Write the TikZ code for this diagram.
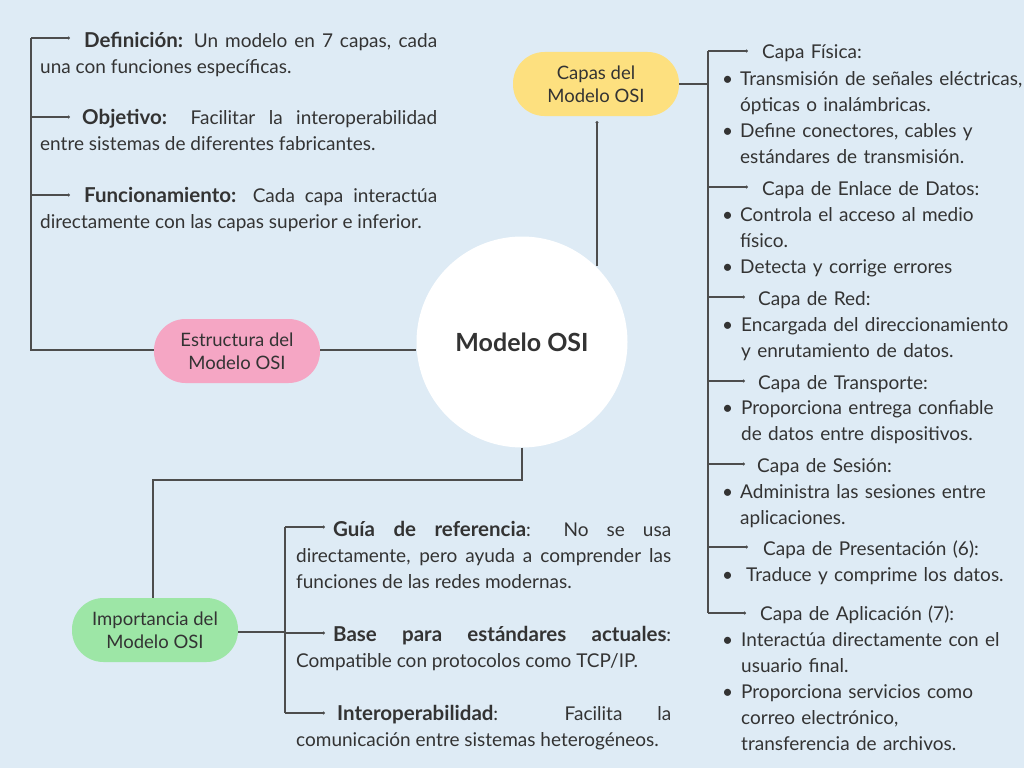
\documentclass[tikz,border=0pt]{standalone}
\usepackage{fontspec}
\setmainfont{Lato}
\usetikzlibrary{arrows.meta}
\definecolor{bgc}{HTML}{DEEBF5}
\definecolor{txtc}{HTML}{333333}
\definecolor{linec}{HTML}{4D4D4D}
\definecolor{pinkc}{HTML}{F5A6C4}
\definecolor{yelc}{HTML}{FDE07F}
\definecolor{grnc}{HTML}{9DE6A6}
\newcommand{\bterm}[1]{{\fontsize{20.5}{26}\selectfont\bfseries #1}}
\begin{document}
\begin{tikzpicture}[x=1pt,y=-1pt,
  conn/.style={draw=linec, line width=1.1pt},
  arr/.style={conn, -{Circle[length=3pt]}},
  pill/.style={rounded corners=31.5pt, minimum width=166pt, minimum height=64pt, inner sep=0pt,
     text=txtc, align=center, font=\fontsize{18.5}{23}\selectfont},
  txt/.style={inner sep=0pt, text=txtc, font=\fontsize{19}{26}\selectfont, anchor=base west, text width=300pt, align=left},
  jtxt/.style={txt, align=justify}]
\fill[bgc] (0,0) rectangle (1024,768);
\useasboundingbox (0,0) rectangle (1024,768);

% central node
\node[circle, fill=white, minimum size=211pt, inner sep=0pt, text=txtc,
  font=\fontsize{25}{28}\selectfont\bfseries] (c) at (522,342) {Modelo OSI};

% pills
\node[pill, fill=pinkc] (est) at (237,351) {Estructura del\\Modelo OSI};
\node[pill, fill=yelc] (cap) at (596,84) {Capas del\\Modelo OSI};
\node[pill, fill=grnc] (imp) at (155,630) {Importancia del\\Modelo OSI};

% connectors centre
\draw[conn] (est.east |- 0,350) -- (c.west |- 0,350);
\coordinate (capdot) at (597,121);
\coordinate (ctop) at (597,266);
\draw[conn, {Circle[length=3pt]}-] (capdot) -- (ctop);
\coordinate (cb1) at (522,480);
\coordinate (cb2) at (153,480);
\draw[conn] (c.south) -- (cb1) -- (cb2) -- (imp.north -| cb2);

% ---------- left: estructura ----------
\coordinate (lv) at (31,350);
\coordinate (l1) at (31,38);
\coordinate (l2) at (31,117);
\coordinate (l3) at (31,195);
\coordinate (l1e) at (70,38);
\coordinate (l2e) at (70,117);
\coordinate (l3e) at (70,195);
\draw[conn] (est.west |- lv) -- (lv) -- (l1);
\draw[arr] (l1) -- (l1e);
\draw[arr] (l2) -- (l2e);
\draw[arr] (l3) -- (l3e);
\node[jtxt, text width=397pt] (def) at (40,48) {\hspace*{44pt}\bterm{Definición:} Un modelo en 7 capas, cada\linebreak una con funciones específicas.};
\node[jtxt, text width=397pt] (obj) at (40,124) {\hspace*{42pt}\bterm{Objetivo:} Facilitar la interoperabilidad\linebreak entre sistemas de diferentes fabricantes.};
\node[jtxt, text width=397pt] (fun) at (40,202) {\hspace*{44pt}\bterm{Funcionamiento:} Cada capa interactúa\linebreak directamente con las capas superior e inferior.};

% ---------- right: capas ----------
\coordinate (rv) at (708,84);
\coordinate (r1) at (708,51);
\coordinate (r2) at (708,187);
\coordinate (r3) at (708,297);
\coordinate (r4) at (708,381);
\coordinate (r5) at (708,464);
\coordinate (r6) at (708,547);
\coordinate (r7) at (708,613);
\draw[conn] (cap.east |- rv) -- (rv);
\draw[conn] (r1) -- (r7);
\coordinate (r1e) at (748,51);
\coordinate (r2e) at (748,187);
\coordinate (r3e) at (745,297);
\coordinate (r4e) at (745,381);
\coordinate (r5e) at (745,464);
\coordinate (r6e) at (748,547);
\coordinate (r7e) at (746,613);
\draw[arr] (r1) -- (r1e);
\draw[arr] (r2) -- (r2e);
\draw[arr] (r3) -- (r3e);
\draw[arr] (r4) -- (r4e);
\draw[arr] (r5) -- (r5e);
\draw[arr] (r6) -- (r6e);
\draw[arr] (r7) -- (r7e);

\node[txt] (h1) at (762,59) {Capa Física:};
\node[txt] (b1a) at (722,85) {•};
\node[txt] (t1a) at (740,85) {Transmisión de señales eléctricas,\\ópticas o inalámbricas.};
\node[txt] (b1b) at (722,137) {•};
\node[txt] (t1b) at (740,137) {Define conectores, cables y\\estándares de transmisión.};

\node[txt] (h2) at (762,195) {Capa de Enlace de Datos:};
\node[txt] (b2a) at (722,221) {•};
\node[txt] (t2a) at (740,221) {Controla el acceso al medio\\físico.};
\node[txt] (b2b) at (722,273) {•};
\node[txt] (t2b) at (740,273) {Detecta y corrige errores};

\node[txt] (h3) at (758,305) {Capa de Red:};
\node[txt] (b3a) at (722,331) {•};
\node[txt] (t3a) at (741,331) {Encargada del direccionamiento\\y enrutamiento de datos.};

\node[txt] (h4) at (758,389) {Capa de Transporte:};
\node[txt] (b4a) at (722,414) {•};
\node[txt] (t4a) at (741,414) {Proporciona entrega confiable\\de datos entre dispositivos.};

\node[txt] (h5) at (757,472) {Capa de Sesión:};
\node[txt] (b5a) at (722,498) {•};
\node[txt] (t5a) at (740,498) {Administra las sesiones entre\\aplicaciones.};

\node[txt] (h6) at (763,555) {Capa de Presentación (6):};
\node[txt] (b6a) at (722,581) {•};
\node[txt] (t6a) at (746,581) {Traduce y comprime los datos.};

\node[txt] (h7) at (760,620) {Capa de Aplicación (7):};
\node[txt] (b7a) at (722,646) {•};
\node[txt] (t7a) at (741,646) {Interactúa directamente con el\\usuario final.};
\node[txt] (b7b) at (722,698) {•};
\node[txt] (t7b) at (741,698) {Proporciona servicios como\\correo electrónico,\\transferencia de archivos.};

% ---------- bottom: importancia ----------
\coordinate (bv) at (285,632);
\coordinate (bt) at (285,527);
\coordinate (bb) at (285,713);
\coordinate (bm) at (285,633);
\draw[conn] (imp.east |- bv) -- (bv);
\draw[conn] (bt) -- (bb);
\coordinate (bte) at (325,527);
\coordinate (bme) at (325,633);
\coordinate (bbe) at (325,713);
\draw[arr] (bt) -- (bte);
\draw[arr] (bm) -- (bme);
\draw[arr] (bb) -- (bbe);
\node[jtxt, text width=375pt] (gui) at (296,536) {\hspace*{37pt}\bterm{Guía de referencia}: No se usa\linebreak directamente, pero ayuda a comprender las\linebreak funciones de las redes modernas.};
\node[jtxt, text width=375pt] (bas) at (296,641) {\hspace*{37pt}\bterm{Base para estándares actuales}:\linebreak Compatible con protocolos como TCP/IP.};
\node[jtxt, text width=375pt] (int) at (296,720) {\hspace*{41pt}\bterm{Interoperabilidad}: Facilita la\linebreak comunicación entre sistemas heterogéneos.};
\end{tikzpicture}
\end{document}
